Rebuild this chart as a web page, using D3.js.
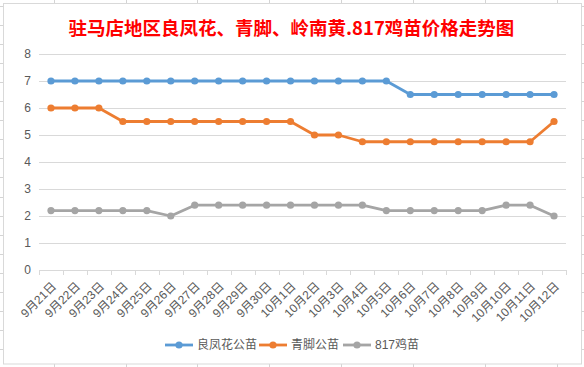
<!DOCTYPE html>
<html><head><meta charset="utf-8">
<script src="https://cdn.jsdelivr.net/npm/d3@7"></script>
<style>
html,body{margin:0;padding:0;background:#fff;}
svg{display:block;}
</style></head>
<body>
<svg id="c" width="584" height="367"></svg>
<script>
const title = "驻马店地区良凤花、青脚、岭南黄.817鸡苗价格走势图";
const categories = ["9月21日","9月22日","9月23日","9月24日","9月25日","9月26日","9月27日","9月28日","9月29日","9月30日","10月1日","10月2日","10月3日","10月4日","10月5日","10月6日","10月7日","10月8日","10月9日","10月10日","10月11日","10月12日"];
const seriesNames = ["良凤花公苗","青脚公苗","817鸡苗"];
const lianfenghua = [7,7,7,7,7,7,7,7,7,7,7,7,7,7,7,6.5,6.5,6.5,6.5,6.5,6.5,6.5];
const qingjiao = [6,6,6,5.5,5.5,5.5,5.5,5.5,5.5,5.5,5.5,5,5,4.75,4.75,4.75,4.75,4.75,4.75,4.75,4.75,5.5];
const ji817 = [2.2,2.2,2.2,2.2,2.2,2,2.4,2.4,2.4,2.4,2.4,2.4,2.4,2.4,2.2,2.2,2.2,2.2,2.2,2.4,2.4,2];
const yTicks = [0,1,2,3,4,5,6,7,8];
const colors = ["#5b9bd5","#ed7d31","#a5a5a5"];
const seriesData = [lianfenghua, qingjiao, ji817];

const svg = d3.select("#c");
const font = "'Liberation Sans','Noto Sans CJK SC',sans-serif";

// spreadsheet background lines
const bg = svg.append("g");
[54,126,197,269,341,413,485,557].forEach(xx=>bg.append("line").attr("x1",xx+0.5).attr("x2",xx+0.5).attr("y1",0).attr("y2",367).attr("stroke","#d4d4d4"));
for(let i=-1;i<19;i++){const yy=Math.round(25+i*19.06)+0.5;bg.append("line").attr("x1",0).attr("x2",584).attr("y1",yy).attr("y2",yy).attr("stroke","#d4d4d4");}

// chart frame
svg.append("rect").attr("x",3.5).attr("y",3.5).attr("width",578).attr("height",360.5).attr("fill","#fff").attr("stroke","#d9d9d9");

const pLeft=39, pRight=566, pTop=54, pBottom=270;
const x = d3.scaleBand().domain(categories).range([pLeft,pRight]);
const y = d3.scaleLinear().domain([0,8]).range([pBottom,pTop]);

// title
svg.append("text").attr("x",291.5).attr("y",35).attr("text-anchor","middle")
  .attr("font-family","'Noto Sans CJK SC',sans-serif").attr("font-weight","bold")
  .attr("font-size",18.5).attr("fill","#ff0000").text(title);

// gridlines
const ya = d3.axisLeft(y).tickValues(yTicks).tickSize(-(pRight-pLeft)).tickPadding(8).tickFormat(d3.format("d"));
const gy = svg.append("g").attr("transform",`translate(${pLeft},0)`).call(ya);
gy.select(".domain").remove();
gy.selectAll(".tick line").attr("stroke","#d9d9d9");
gy.selectAll(".tick text").attr("font-family",font).attr("font-size",12).attr("fill","#595959");

// x axis
const xa = d3.axisBottom(x).tickSizeOuter(0).tickSizeInner(0).tickFormat(d=>d);
const gx = svg.append("g").attr("transform",`translate(0,${pBottom})`).call(xa);
gx.select(".domain").attr("stroke","#d9d9d9");
gx.selectAll(".tick line").remove();
const bounds = categories.map(c=>x(c)).concat([pRight]);
gx.selectAll("line.bt").data(bounds).enter().append("line").attr("class","bt")
  .attr("x1",d=>Math.round(d)+0.5).attr("x2",d=>Math.round(d)+0.5).attr("y1",0).attr("y2",5).attr("stroke","#d9d9d9");
gx.selectAll(".tick text").attr("font-family",font).attr("font-size",12).attr("fill","#595959")
  .attr("text-anchor","end").attr("dy",0).attr("y",0)
  .attr("transform","translate(6,17) rotate(-45)");

// lines
const line = d3.line().x((d,i)=>x(categories[i])+x.bandwidth()/2).y(d=>y(d));
seriesData.forEach((s,k)=>{
  const g = svg.append("g");
  g.append("path").datum(s).attr("d",line).attr("fill","none").attr("stroke",colors[k]).attr("stroke-width",2.8).attr("stroke-linejoin","round");
  g.selectAll("circle").data(s).enter().append("circle")
    .attr("cx",(d,i)=>x(categories[i])+x.bandwidth()/2).attr("cy",d=>y(d)).attr("r",3.6).attr("fill",colors[k]);
});

// legend
const legX = [165,259,343];
const lg = svg.append("g");
seriesNames.forEach((n,k)=>{
  const ly=345;
  lg.append("line").attr("x1",legX[k]).attr("x2",legX[k]+28).attr("y1",ly).attr("y2",ly).attr("stroke",colors[k]).attr("stroke-width",2.8);
  lg.append("circle").attr("cx",legX[k]+14).attr("cy",ly).attr("r",3.6).attr("fill",colors[k]);
  lg.append("text").attr("x",legX[k]+32).attr("y",ly).attr("dy","0.36em").attr("font-family",font).attr("font-size",12).attr("fill","#595959").text(n);
});
</script>
</body></html>
